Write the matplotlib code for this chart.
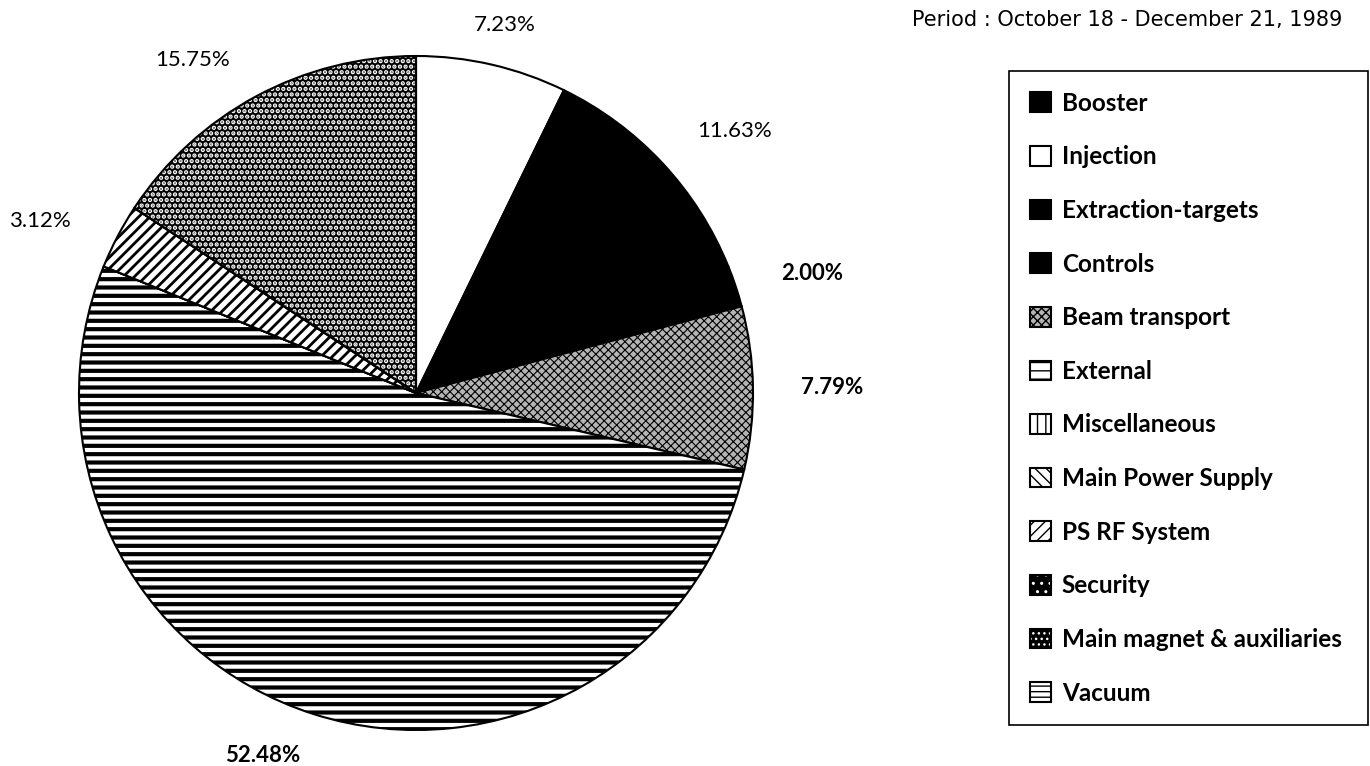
import matplotlib
matplotlib.use("Agg")
import matplotlib.pyplot as plt
from matplotlib.patches import Wedge
from matplotlib.legend_handler import HandlerTuple

plt.rcParams['font.family'] = ['Lato', 'DejaVu Sans']

# ---------------- data ----------------
categories = ["Booster", "Injection", "Extraction-targets", "Controls",
              "Beam transport", "External", "Miscellaneous", "Main Power Supply",
              "PS RF System", "Security", "Main magnet & auxiliaries", "Vacuum"]
shares = [0.0, 7.23, 11.63, 2.00, 7.79, 52.48, 0.0, 0.0, 3.12, 0.0, 15.75, 0.0]
period_text = "Period : October 18 - December 21, 1989"

# ---------------- styles ----------------
W, H = 1370, 766
face = ["black", "white", "black", "black", "#b4b4b4", "white", "white", "white",
        "white", "black", "black", "white"]
hatches = [None, None, None, None, "xxxx", "--", "||", "\\\\\\", "///", "..", "...", "---"]
hatch_lw = [1, 1, 1, 1, 0.8, 3.0, 2.5, 2.0, 2.0, 3.0, 2.2, 2.0]
label_xy = {1: (505, 25), 2: (735, 131), 3: (812, 274), 4: (832, 388),
            5: (263, 755), 8: (40, 221), 10: (193, 60)}
label_weight = {1: "normal", 2: "normal", 3: "bold", 4: "bold",
                5: "bold", 8: "normal", 10: "normal"}
white_dot_slices = {9, 10}


def set_hlw(p, lw):
    try:
        p.set_hatch_linewidth(lw)
    except AttributeError:
        pass


fig = plt.figure(figsize=(W / 100, H / 100), dpi=100)
ax = fig.add_axes([0, 0, 1, 1])

wedges, _ = ax.pie(shares, colors=face, startangle=90, counterclock=False,
                   radius=337, center=(416, H - 393), frame=True,
                   wedgeprops=dict(linewidth=1.5, edgecolor="black"))

handles = []
for i, w in enumerate(wedges):
    if hatches[i]:
        w.set_hatch(hatches[i])
        set_hlw(w, hatch_lw[i])
    if i in white_dot_slices:
        # white dots on black: hatch colour follows edge colour
        w.set_edgecolor("white")
        w.set_linewidth(0)
        outline = Wedge(w.center, w.r, w.theta1, w.theta2, fill=False,
                        edgecolor="black", linewidth=1.5)
        ax.add_patch(outline)
        handles.append((w, outline))
    else:
        handles.append(w)

for i, (x, y) in label_xy.items():
    ax.text(x, H - y, f"{shares[i]:.2f}%", ha="center", va="center",
            fontsize=16, fontweight=label_weight[i], color="black")

ax.text(1342, H - 20, period_text, ha="right", va="center", fontsize=15,
        family=["DejaVu Sans"], color="black")

leg = ax.legend(handles, categories, loc="upper left",
                bbox_to_anchor=(1009, H - 725, 359, 654),
                bbox_transform=ax.transData, mode="expand",
                handler_map={tuple: HandlerTuple(ndivide=1, pad=0)},
                prop=dict(size=17.5, weight="bold"),
                handlelength=0.87, handleheight=0.87, handletextpad=0.45,
                labelspacing=1.26, borderpad=0.85, borderaxespad=0,
                fancybox=False, framealpha=1, edgecolor="black")
leg.get_frame().set_linewidth(1.2)

ax.set_xlim(0, W)
ax.set_ylim(0, H)
ax.set_aspect("auto")
ax.axis("off")

fig.savefig("out.png", dpi=100, facecolor="white")
